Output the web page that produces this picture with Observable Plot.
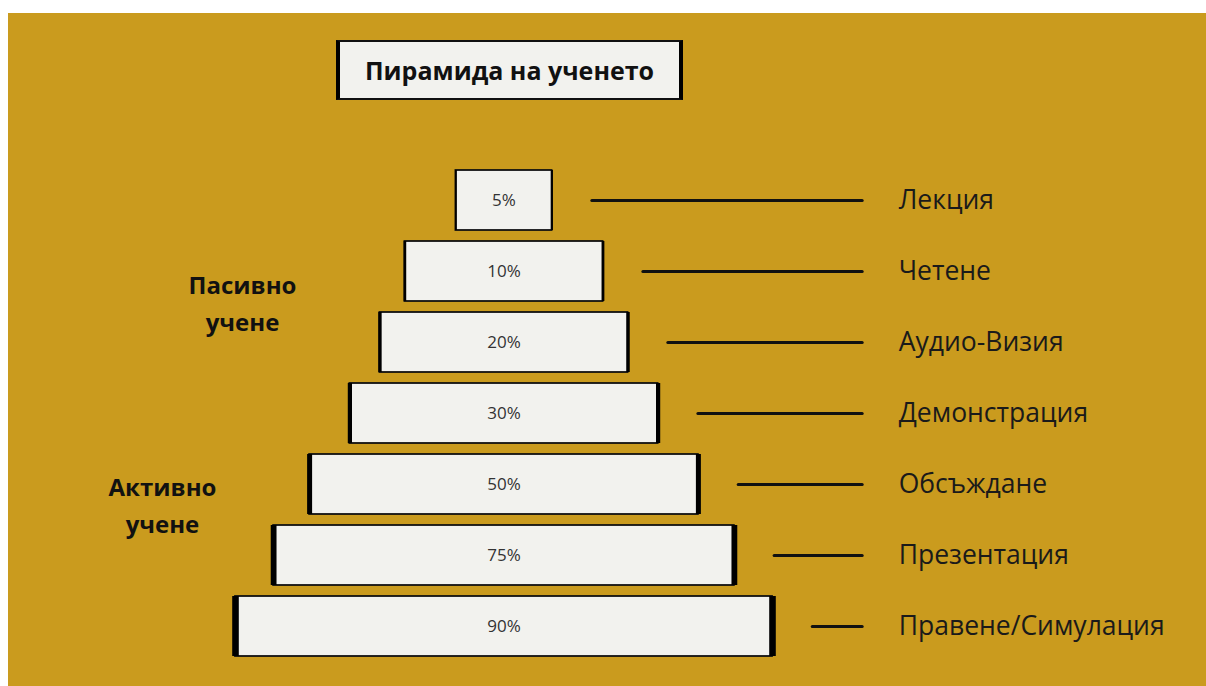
<!DOCTYPE html>
<html><head><meta charset="utf-8">
<script src="https://cdn.jsdelivr.net/npm/d3@7"></script>
<script src="https://cdn.jsdelivr.net/npm/@observablehq/plot@0.6"></script>
<style>
html,body{margin:0;padding:0;background:#fff;}
#stage{position:absolute;left:8px;top:13px;width:1198px;height:673px;background:#CA9B1E;font-family:"Open Sans",sans-serif;}
#title{margin:27px 0 0 328px;width:347px;height:60px;box-sizing:border-box;background:#F2F2EE;border-top:2px solid #111;border-bottom:2px solid #111;border-left:4px solid #000;border-right:4px solid #000;display:flex;align-items:center;justify-content:center;font-weight:700;font-size:25px;color:#111;}
#chart svg{display:block}
</style></head><body>
<div id="stage"><div id="title"></div><div id="chart"></div></div>
<script>
const titleText = "Пирамида на ученето";
const activities = ["Лекция","Четене","Аудио-Визия","Демонстрация","Обсъждане","Презентация","Правене/Симулация"];
const retention = [5,10,20,30,50,75,90];
const tierWidth = [17.9,36.9,46.2,57.4,72.4,85.8,100];
const groupLabels = ["Пасивно\nучене","Активно\nучене"];
const groupAnchor = ["Четене","Обсъждане"];

document.getElementById("title").textContent = titleText;

const rows = activities.map((a,i)=>({activity:a, value:retention[i], w:tierWidth[i], i}));

const edgeMarks = rows.flatMap(r => [
  Plot.tickX([r],{y:"activity", x:d=>-d.w/2, stroke:"#000", strokeWidth:1.8+r.i*0.8}),
  Plot.tickX([r],{y:"activity", x:d=>d.w/2, stroke:"#000", strokeWidth:1.8+r.i*0.8})
]);

const chart = Plot.plot({
  width:1198, height:586,
  marginTop:62, marginBottom:22, marginLeft:0, marginRight:0,
  style:{background:"transparent", fontFamily:"'Open Sans', sans-serif", overflow:"visible"},
  x:{domain:[-50,50], range:[227,764], axis:null},
  y:{type:"band", domain:activities, paddingInner:0.15, paddingOuter:0.075, axis:null},
  marks:[
    Plot.rect(rows,{y:"activity", x1:d=>-d.w/2, x2:d=>d.w/2, fill:"#F2F2EE", stroke:"#111", strokeWidth:1.8}),
    ...edgeMarks,
    Plot.text(rows,{y:"activity", x:0, text:d=>d.value+"%", fontSize:17, fill:"#333"}),
    Plot.ruleY(rows,{y:"activity", x1:d=>d.w/2+7.5, x2:66.8, stroke:"#111", strokeWidth:3, strokeLinecap:"round"}),
    Plot.text(rows,{y:"activity", x:73.5, text:"activity", textAnchor:"start", fontSize:26.5, fill:"#1a1a1a"}),
    Plot.text([{label:groupLabels[0], anchor:groupAnchor[0]}],{y:"anchor", x:-48.7, dy:29, text:"label", fontWeight:700, fontSize:24, lineHeight:1.55, fill:"#111"}),
    Plot.text([{label:groupLabels[1], anchor:groupAnchor[1]}],{y:"anchor", x:-63.6, dy:18, text:"label", fontWeight:700, fontSize:24, lineHeight:1.55, fill:"#111"})
  ]
});
document.getElementById("chart").appendChild(chart);
</script>
</body></html>
